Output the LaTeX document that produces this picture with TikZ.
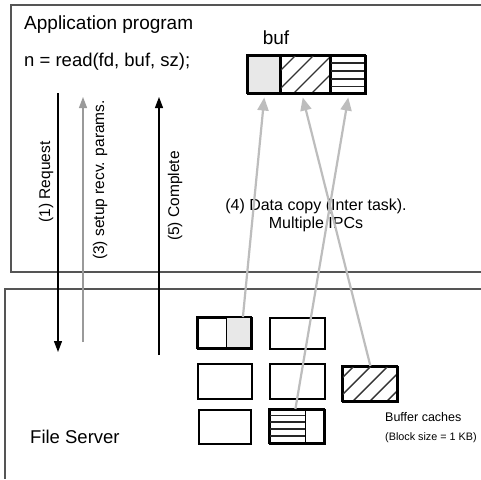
\documentclass[tikz,border=0pt]{standalone}
\usepackage{fontspec}
\setmainfont{Liberation Sans}
\usetikzlibrary{arrows.meta}
\definecolor{cellgray}{HTML}{E8E8E8}
\definecolor{copygray}{HTML}{BDBDBD}
\definecolor{setupgray}{HTML}{9A9A9A}
\definecolor{framegray}{HTML}{555555}
\begin{document}
\begin{tikzpicture}[x=1pt,y=-1pt,
  frame/.style={draw=framegray,line width=1.2pt},
  txt/.style={inner sep=0pt,anchor=west},
  lbl/.style={inner sep=0pt,rotate=90,font=\fontsize{15.5}{18}\selectfont},
  cell/.style={draw=black,line width=1.5pt,anchor=north west,inner sep=0pt},
  blk/.style={draw=black,line width=1.8pt,anchor=north west,inner sep=0pt},
  hatchline/.style={draw=black!80,line width=1.4pt},
  stripe/.style={draw=black!85,line width=1.8pt},
  blackarrow/.style={draw=black,line width=1.2pt,-{Triangle[length=11pt,width=8pt]}},
  setuparrow/.style={draw=setupgray,line width=1.2pt,-{Triangle[length=11pt,width=8pt]}},
  copyarrow/.style={draw=copygray,line width=2.2pt,-{Triangle[length=13pt,width=11pt]}}
]
\useasboundingbox (0,0) rectangle (481,479);
\fill[white] (0,0) rectangle (481,479);

% frames
\draw[frame] (481,5) -- (11,5) -- (11,272) -- (481,272);
\draw[frame] (481,289) -- (5,289) -- (5,479);

% texts in application box
\node[txt,font=\fontsize{19}{22}\selectfont] (title) at (24,25) {Application program};
\node[font=\fontsize{19}{22}\selectfont,inner sep=0pt] (buflbl) at (276,38) {buf};
\node[txt,font=\fontsize{18.5}{22}\selectfont] (code) at (24,62) {n = read(fd, buf, sz);};

% buf cells
\node[cell,fill=cellgray,minimum width=33pt,minimum height=38pt] (bufA) at (247,55) {};
\node[cell,minimum width=50pt,minimum height=38pt] (bufB) at (280,55) {};
\node[cell,minimum width=35pt,minimum height=38pt] (bufC) at (330,55) {};
\begin{scope}
  \clip (280,55) rectangle (330,93);
  \foreach \i in {-40,-22,...,60} \draw[hatchline] (280+\i,93) -- ++(38,-38);
\end{scope}
\foreach \yy in {63,71,79,86.5} \draw[stripe] (330,\yy) -- (365,\yy);
\draw[line width=1.5pt] (247,55) rectangle (365,93);
\draw[line width=1.5pt] (280,55) -- (280,93) (330,55) -- (330,93);

% vertical arrows
\coordinate (r1) at (58,93);
\coordinate (r2) at (58,352);
\coordinate (s1) at (83,342);
\coordinate (s2) at (83,97);
\coordinate (c1) at (159,355);
\coordinate (c2) at (159,97);
\draw[blackarrow] (r1) -- (r2);
\draw[setuparrow] (s1) -- (s2);
\draw[blackarrow] (c1) -- (c2);
\node[lbl] (lreq) at (46,182) {(1) Request};
\node[lbl] (lset) at (100,180) {(3) setup recv. params.};
\node[lbl] (lcom) at (175,196) {(5) Complete};

% data copy label
\node[inner sep=0pt,align=center,font=\fontsize{16}{18}\selectfont] (dc) at (316,215) {(4) Data copy (Inter task).\\Multiple IPCs};

% blocks
\node[blk,minimum width=54pt,minimum height=31pt] (A) at (197,317) {};
\node[anchor=north west,inner sep=0pt,fill=cellgray,draw=black,line width=0.8pt,minimum width=25pt,minimum height=31pt] (Ag) at (226,317) {};
\draw[line width=1.8pt] (197,317) rectangle (251,348);
\node[blk,minimum width=55pt,minimum height=31pt] (B) at (269,317) {};
\node[blk,minimum width=54pt,minimum height=35pt] (C) at (197,363) {};
\node[blk,minimum width=55pt,minimum height=35pt] (D) at (269,363) {};
\node[blk,minimum width=55pt,minimum height=35pt] (E) at (342,366) {};
\begin{scope}
  \clip (342,366) rectangle (397,401);
  \foreach \i in {-40,-23,...,60} \draw[hatchline] (342+\i,401) -- ++(35,-35);
\end{scope}
\draw[line width=1.8pt] (342,366) rectangle (397,401);
\node[blk,minimum width=52pt,minimum height=34pt] (F) at (198,409) {};
\node[blk,minimum width=55pt,minimum height=34pt] (G) at (269,409) {};
\node[anchor=north west,inner sep=0pt,draw=black,line width=0.8pt,minimum width=36pt,minimum height=34pt] (Gs) at (269,409) {};
\foreach \yy in {415.5,422,429,436} \draw[stripe] (269,\yy) -- (305,\yy);
\draw[line width=1.8pt] (269,409) rectangle (324,443);

% copy arrows
\draw[copyarrow] ([xshift=4pt]Ag.north) -- ([yshift=-3pt]bufA.south);
\draw[copyarrow] ([xshift=8pt]Gs.north) -- ([yshift=-3pt]bufC.south);
\draw[copyarrow] (E.north) -- ([xshift=-3pt,yshift=-3pt]bufB.south);

% file server texts
\node[txt,font=\fontsize{18.5}{22}\selectfont] (fs) at (30,437) {File Server};
\node[txt,font=\fontsize{12.5}{15}\selectfont] (bc) at (385,417) {Buffer caches};
\node[txt,font=\fontsize{10.8}{13}\selectfont] (bs) at (385,438) {(Block size = 1 KB)};
\end{tikzpicture}
\end{document}
